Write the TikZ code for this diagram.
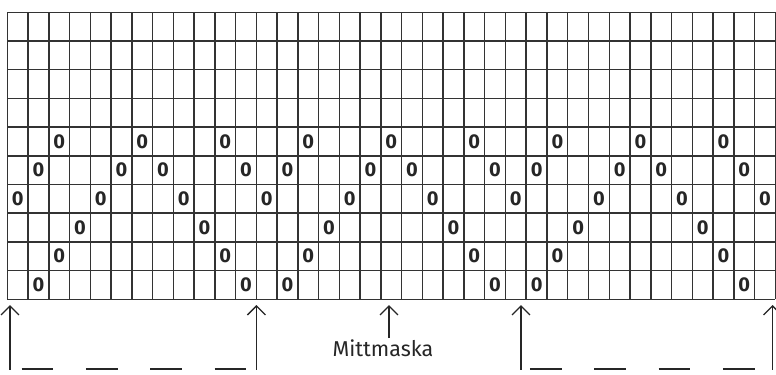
\documentclass[tikz,border=0pt]{standalone}
\usepackage{fontspec}
\setmainfont{Fira Sans}
\usetikzlibrary{arrows.meta}
\begin{document}
\begin{tikzpicture}[x=20.757pt, y=28.7pt,
  gridline/.style={black!80, line width=1.5pt},
  stitch/.style={font=\bfseries\fontsize{20}{20}\selectfont, text=black!85, inner sep=0pt},
  marker/.style={black!85, line width=1.3pt, -{Straight Barb[length=9pt, width=18pt]}},
  repline/.style={black!85, line width=1.4pt},
  caption/.style={font=\fontsize{21.5}{21.5}\selectfont, text=black!85, inner sep=0pt}]
\useasboundingbox (-0.352,-2.603) rectangle (37.034,10.429);
% chart grid: 37 stitches, 10 rows
\draw[gridline, xstep=20.757pt, ystep=28.7pt] (0,0) grid (37,10);
% yarn overs, rows counted from the bottom
\foreach \r/\cols in {6/{3,7,11,15,19,23,27,31,35},
                      5/{2,6,8,12,14,18,20,24,26,30,32,36},
                      4/{1,5,9,13,17,21,25,29,33,37},
                      3/{4,10,16,22,28,34},
                      2/{3,11,15,23,27,35},
                      1/{2,12,14,24,26,36}}
  \foreach \c in \cols
    \node[stitch] (yo-\c-\r) at (\c-0.5,\r-0.5) {0};
% repeat markers
\foreach \i/\x in {1/0.13, 2/12, 3/24.75, 4/36.87} {
  \coordinate (foot\i) at (\x,-2.46);
  \coordinate (tip\i) at (\x,-0.2);
  \draw[marker] (foot\i) -- (tip\i);
}
% centre stitch
\node[caption, anchor=base] (mitt) at (18.1,-2.0) {Mittmaska};
\coordinate (mittfoot) at (18.39,-1.35);
\coordinate (mitttip) at (18.39,-0.2);
\draw[marker] (mittfoot) -- (mitttip);
% dashed repeat lines
\foreach \s in {0.69,3.79,6.89,9.99,25.18,28.28,31.38,34.48}
  \draw[repline] (\s,-2.43) -- ++(1.53,0);
\end{tikzpicture}
\end{document}
